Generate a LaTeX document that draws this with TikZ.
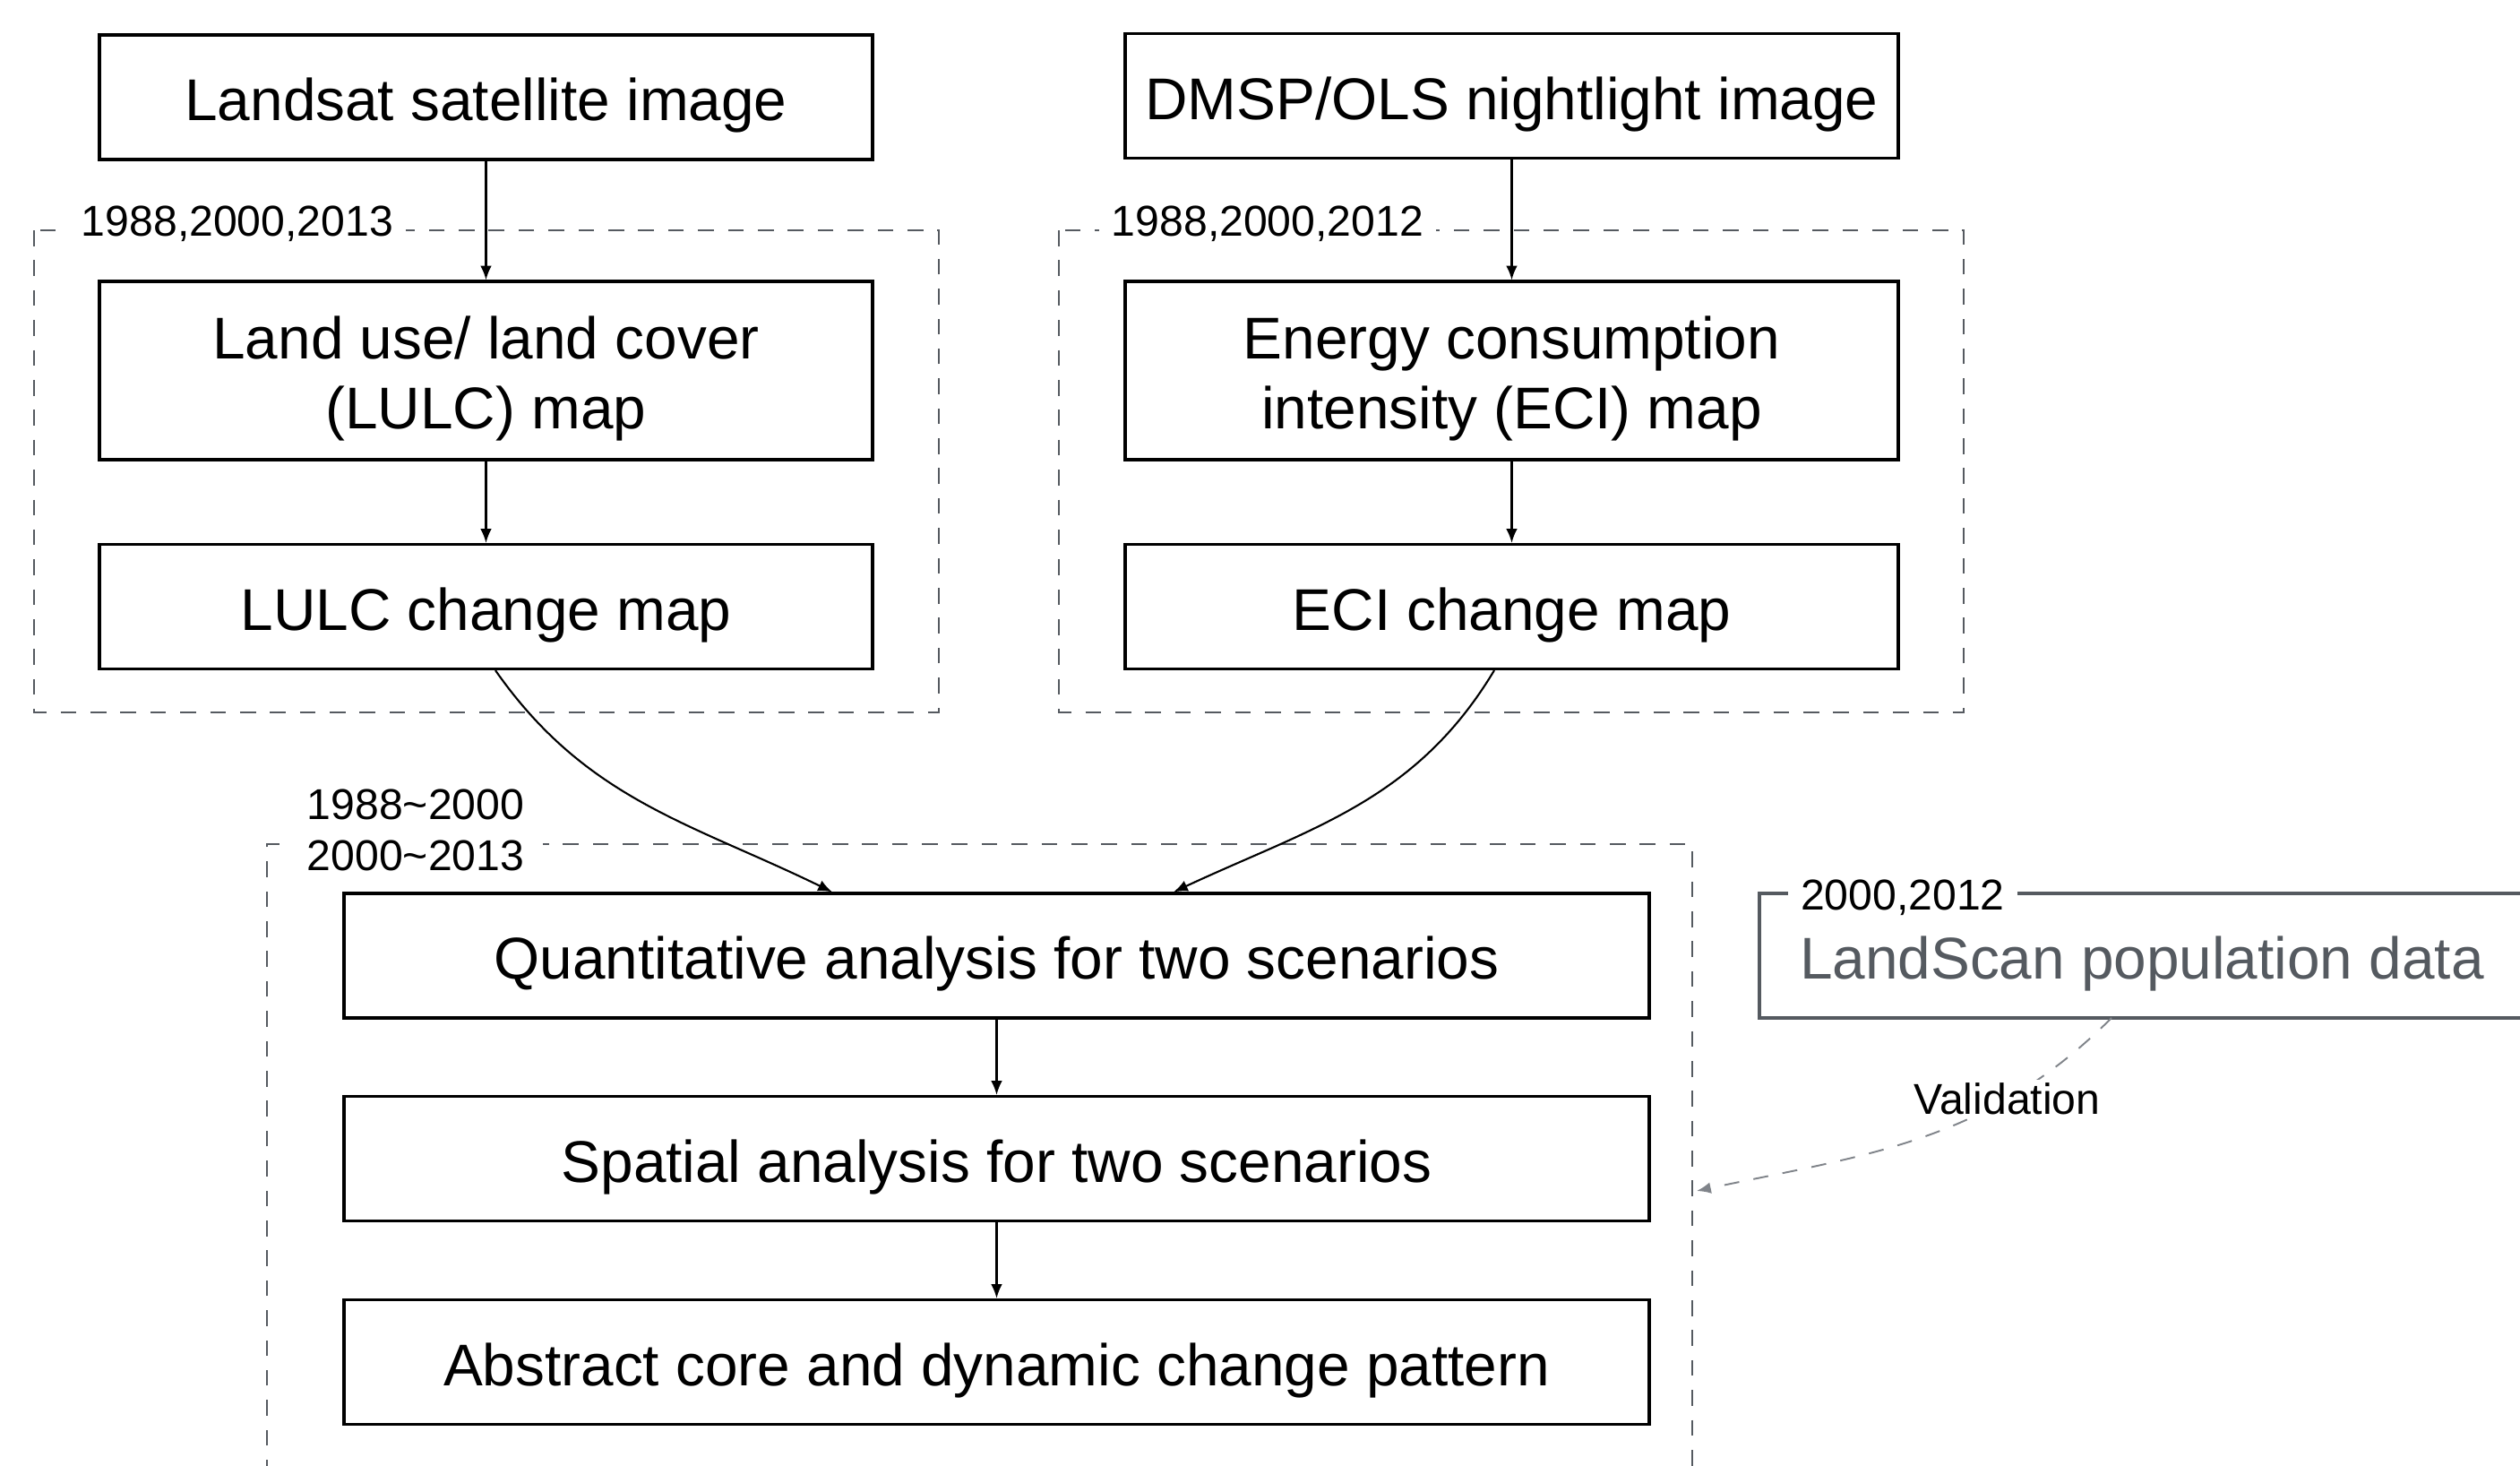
\documentclass[tikz,border=0pt]{standalone}
\usepackage{fontspec}
\setmainfont{Liberation Sans}
\usetikzlibrary{arrows.meta}
\definecolor{framegray}{RGB}{85,90,96}
\definecolor{validgray}{RGB}{128,132,138}
\begin{document}
\begin{tikzpicture}[x=1cm,y=1cm,>={Latex[length=4.5pt,width=3.6pt]},
  box/.style={draw,line width=0.9pt,minimum width=8.63cm,minimum height=1.39cm,
    align=center,inner sep=0pt,text height=18.7pt,text depth=3.9pt,
    font=\fontsize{18.7}{22.4}\selectfont},
  tallbox/.style={box,minimum height=1.99cm,text height=41.1pt},
  widebox/.style={box,minimum width=14.57cm},
  group/.style={draw=framegray,line width=0.7pt,dash pattern=on 5pt off 4.5pt},
  tag/.style={fill=white,inner xsep=4pt,inner ysep=1pt,align=center,
    font=\fontsize{13.7}{16.2}\selectfont},
  link/.style={->,line width=0.6pt}]
\useasboundingbox (0,0) rectangle (28.13,-16.36);
\draw[group] (0.38,-2.57) rectangle (10.48,-7.95);
\draw[group] (11.82,-2.57) rectangle (21.92,-7.95);
\draw[group] (2.98,-16.8) |- (18.89,-9.42) -- (18.89,-16.8);
\node[tag,anchor=base] (yearsL) at (2.65,-2.63) {1988,2000,2013};
\node[tag,anchor=base] (yearsR) at (14.15,-2.63) {1988,2000,2012};
\node[tag,inner xsep=6pt] (periods) at (4.64,-9.26) {1988\textasciitilde2000\\2000\textasciitilde2013};
\node[box] (landsat) at (5.425,-1.085) {Landsat satellite image};
\node[box] (dmsp) at (16.875,-1.07) {DMSP/OLS nightlight image};
\node[tallbox] (lulc) at (5.425,-4.135) {Land use/ land cover\\(LULC) map};
\node[box] (lulcchg) at (5.425,-6.77) {LULC change map};
\node[tallbox] (eci) at (16.875,-4.135) {Energy consumption\\intensity (ECI) map};
\node[box] (ecichg) at (16.875,-6.77) {ECI change map};
\node[widebox] (quant) at (11.125,-10.665) {Quantitative analysis for two scenarios};
\node[widebox] (spatial) at (11.125,-12.93) {Spatial analysis for two scenarios};
\node[widebox] (abstract) at (11.125,-15.2) {Abstract core and dynamic change pattern};
\node[anchor=west,minimum height=1.39cm,inner xsep=0.45cm,outer sep=0pt,text=framegray,
  text height=18.7pt,text depth=3.9pt,
  font=\fontsize{18.7}{22.4}\selectfont] (landscan) at (19.64,-10.665) {LandScan population data};
\draw[framegray,line width=0.9pt] ([xshift=2cm]landscan.north east) -- (landscan.north west)
  -- (landscan.south west) -- ([xshift=2cm]landscan.south east);
\node[tag,anchor=base] (yearsP) at (21.24,-10.15) {2000,2012};
\coordinate (valend) at (18.94,-13.29);
\draw[link] (landsat) -- (lulc);
\draw[link] (lulc) -- (lulcchg);
\draw[link] (dmsp) -- (eci);
\draw[link] (eci) -- (ecichg);
\draw[link] (quant) -- (spatial);
\draw[link] (spatial) -- (abstract);
\draw[link] ([xshift=0.105cm]lulcchg.south) to[out=-55,in=154] ([xshift=-1.835cm]quant.north);
\draw[link] ([xshift=-0.195cm]ecichg.south) to[out=-121,in=25] ([xshift=1.975cm]quant.north);
\draw[link,draw=validgray,line width=0.55pt,dash pattern=on 4.8pt off 4.6pt]
  ([xshift=3.93cm]landscan.south west)
  to[out=-135,in=12] node[pos=0.28,tag,inner xsep=2pt,text=black] {Validation} (valend);
\end{tikzpicture}
\end{document}
